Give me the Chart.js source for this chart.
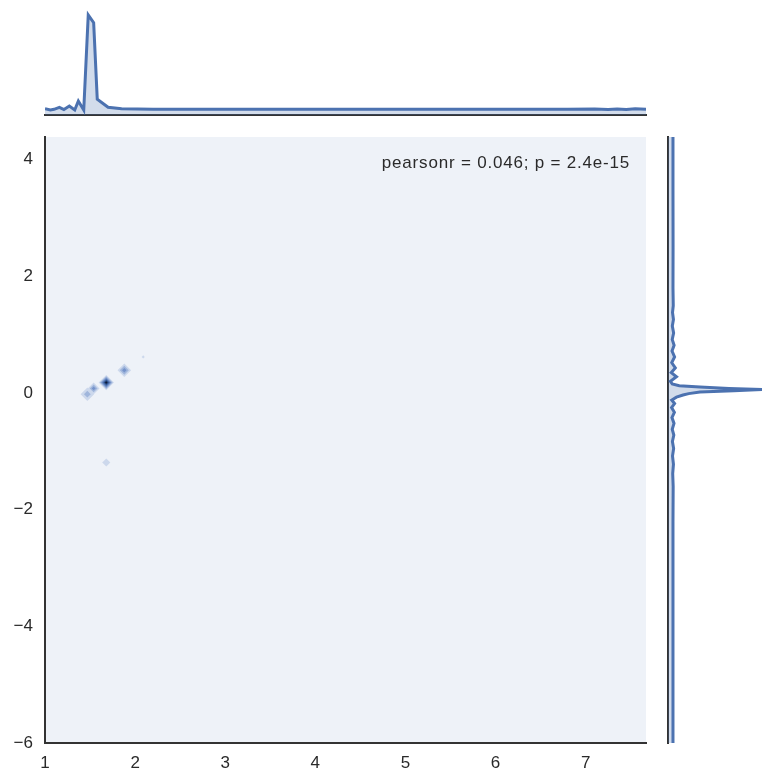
<!DOCTYPE html>
<html><head><meta charset="utf-8">
<script src="https://cdn.jsdelivr.net/npm/chart.js@4.4.0/dist/chart.umd.min.js"></script>
<style>
html,body{margin:0;padding:0;background:#fff;}
#wrap{position:relative;width:762px;height:774px;overflow:hidden;}
canvas{position:absolute;left:0;top:0;}
</style></head><body>
<div id="wrap">
<canvas id="main" width="762" height="774"></canvas>
<canvas id="top" width="762" height="774"></canvas>
<canvas id="right" width="762" height="774"></canvas>
</div>
<script>
// ---- data ----
const xTicks = [1, 2, 3, 4, 5, 6, 7];
const yTicks = [-6, -4, -2, 0, 2, 4];
const xRange = [1, 7.67];
const yRange = [-6, 4.39];

// joint KDE peaks (centre x, centre y, number of contour levels reached, spread in x units)
const blobX = [1.47, 1.54, 1.68, 1.88, 2.09, 1.68];
const blobY = [-0.02, 0.08, 0.18, 0.39, 0.62, -1.19];
const blobLevel = [2, 3, 6, 3, 1, 1];
const blobSpread = [0.075, 0.065, 0.085, 0.075, 0.017, 0.045];

// marginal KDE of x (top)
const xGrid = [1.0, 1.06, 1.10, 1.16, 1.21, 1.27, 1.33, 1.37, 1.43, 1.48, 1.54, 1.58, 1.70, 1.85, 2.2, 3.0, 4.0, 5.0, 6.0, 6.8, 7.1, 7.25, 7.35, 7.45, 7.55, 7.67];
const xDens = [0.063, 0.05, 0.057, 0.077, 0.055, 0.09, 0.05, 0.14, 0.05, 1.0, 0.923, 0.157, 0.077, 0.062, 0.058, 0.057, 0.057, 0.057, 0.057, 0.058, 0.06, 0.055, 0.061, 0.056, 0.062, 0.058];

// marginal KDE of y (right)
const yGrid = [4.39, 3.5, 2.5, 1.8, 1.5, 1.38, 1.26, 1.15, 1.03, 0.92, 0.82, 0.72, 0.62, 0.52, 0.43, 0.35, 0.28, 0.2, 0.155, 0.125, 0.103, 0.08, 0.06, 0.04, 0.017, -0.01, -0.034, -0.07, -0.12, -0.18, -0.25, -0.33, -0.42, -0.52, -0.62, -0.72, -0.83, -0.95, -1.08, -1.22, -1.38, -1.6, -2.2, -3.5, -5, -6];
const yDens = [0.053, 0.053, 0.054, 0.053, 0.056, 0.048, 0.058, 0.046, 0.06, 0.045, 0.065, 0.043, 0.07, 0.04, 0.078, 0.035, 0.09, 0.026, 0.045, 0.12, 0.34, 0.65, 1.0, 0.7, 0.34, 0.22, 0.16, 0.09, 0.04, 0.07, 0.038, 0.068, 0.042, 0.064, 0.045, 0.062, 0.047, 0.06, 0.048, 0.058, 0.05, 0.055, 0.053, 0.053, 0.053, 0.053];

const annotation = 'pearsonr = 0.046; p = 2.4e-15';

// ---- styles ----
const FONT = "'Liberation Sans', Arial, sans-serif";
const TXT = '#2a2a2a';
const SPINE = '#333333';
const LINE = '#4C72B0';
const FILL = 'rgba(76,114,176,0.25)';
const BG = '#EEF2F8';
const levelColors = ['#CCD8EC', '#A0B6DC', '#7593CA', '#4C72B0', '#2A4A82', '#0C1A36'];

const fmt = v => (v < 0 ? '\u2212' + Math.abs(v) : String(v));
const base = {responsive: false, animation: false, devicePixelRatio: 1, events: [],
  plugins: {legend: {display: false}, tooltip: {enabled: false}}};

// ---- main joint plot ----
const levelSets = levelColors.map((c, k) => ({
  data: blobX.map((x, i) => ({x: x, y: blobY[i], b: i})).filter(p => blobLevel[p.b] >= k + 1),
  order: levelColors.length - k,
  pointStyle: 'rectRot',
  backgroundColor: c,
  borderWidth: 0,
  pointBorderWidth: 0,
  pointRadius: ctx => {
    if (!ctx.raw) return 0;
    const i = ctx.raw.b;
    const sx = ctx.chart.scales.x;
    const px = Math.abs(sx.getPixelForValue(blobX[i] + blobSpread[i]) - sx.getPixelForValue(blobX[i]));
    return px * (blobLevel[i] - k) / blobLevel[i];
  }
}));

const bgPlugin = {id: 'bg', beforeDraw(chart) {
  const a = chart.chartArea, ctx = chart.ctx;
  ctx.save(); ctx.fillStyle = BG; ctx.fillRect(a.left, a.top, a.right - a.left, a.bottom - a.top); ctx.restore();
}};
const textPlugin = {id: 'txt', afterDraw(chart) {
  const a = chart.chartArea, ctx = chart.ctx;
  ctx.save();
  ctx.font = '17px ' + FONT; ctx.fillStyle = TXT; ctx.textAlign = 'right'; ctx.textBaseline = 'alphabetic';
  try { ctx.letterSpacing = '0.8px'; } catch (e) {}
  ctx.fillText(annotation, a.right - 16, a.top + 31);
  ctx.restore();
}};

new Chart(document.getElementById('main'), {
  type: 'scatter',
  data: {datasets: levelSets},
  options: Object.assign({}, base, {
    layout: {padding: {left: 0, top: 137, right: 116, bottom: 0}},
    scales: {
      x: {type: 'linear', min: xRange[0], max: xRange[1],
        afterBuildTicks: s => { s.ticks = xTicks.map(v => ({value: v})); },
        afterFit: s => { s.height = 31; },
        grid: {display: false, drawTicks: false},
        border: {display: true, color: SPINE, width: 2},
        ticks: {color: TXT, font: {family: FONT, size: 17}, padding: 10, callback: fmt, maxRotation: 0}},
      y: {type: 'linear', min: yRange[0], max: yRange[1],
        afterBuildTicks: s => { s.ticks = yTicks.map(v => ({value: v})); },
        afterFit: s => { s.width = 45; },
        grid: {display: false, drawTicks: false},
        border: {display: true, color: SPINE, width: 2},
        ticks: {color: TXT, font: {family: FONT, size: 17}, padding: 12, callback: fmt}}
    }
  }),
  plugins: [bgPlugin, textPlugin]
});

// ---- top marginal ----
new Chart(document.getElementById('top'), {
  type: 'line',
  data: {datasets: [{data: xGrid.map((x, i) => ({x: x, y: xDens[i]})),
    borderColor: LINE, borderWidth: 3, backgroundColor: FILL, fill: 'origin', pointRadius: 0, tension: 0}]},
  options: Object.assign({}, base, {
    layout: {padding: {left: 45, top: 10, right: 116, bottom: 659}},
    scales: {
      x: {type: 'linear', min: xRange[0], max: xRange[1],
        afterFit: s => { s.height = 0; },
        grid: {display: false, drawTicks: false},
        border: {display: true, color: SPINE, width: 2},
        ticks: {display: false}},
      y: {type: 'linear', min: 0, max: 1.05, display: false}
    }
  })
});

// ---- right marginal ----
new Chart(document.getElementById('right'), {
  type: 'line',
  data: {datasets: [{data: yGrid.map((y, i) => ({x: yDens[i], y: y})),
    borderColor: LINE, borderWidth: 3, backgroundColor: FILL, fill: 'origin', pointRadius: 0, tension: 0}]},
  options: Object.assign({}, base, {
    indexAxis: 'y',
    layout: {padding: {left: 668, top: 137, right: 0, bottom: 31}},
    scales: {
      y: {type: 'linear', position: 'left', min: yRange[0], max: yRange[1],
        afterFit: s => { s.width = 0; },
        grid: {display: false, drawTicks: false},
        border: {display: true, color: SPINE, width: 2},
        ticks: {display: false}},
      x: {type: 'linear', min: 0, max: 1.0, display: false}
    }
  })
});
</script>
</body></html>
